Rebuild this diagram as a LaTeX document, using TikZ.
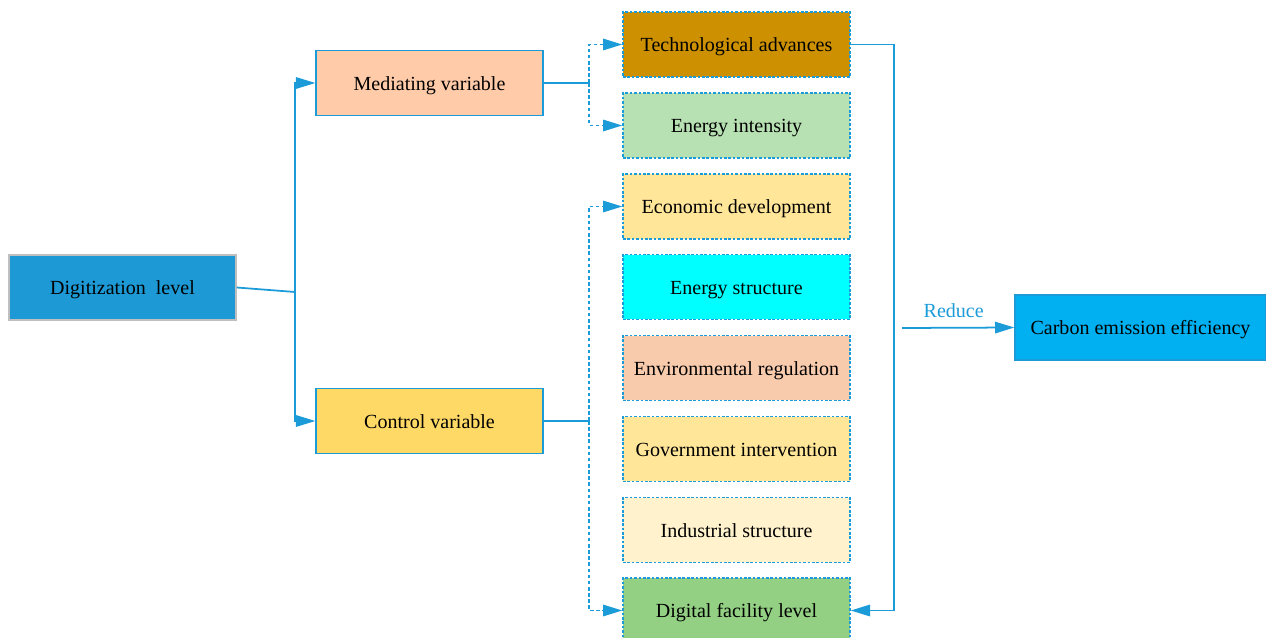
\documentclass[tikz,border=0pt]{standalone}
\usepackage{fontspec}
\setmainfont{Liberation Serif}
\usetikzlibrary{arrows.meta}
\definecolor{lineblue}{HTML}{1B9BD7}
\definecolor{digblue}{HTML}{1D9AD6}
\definecolor{carbblue}{HTML}{00B0F0}
\definecolor{peach}{HTML}{FFCBA8}
\definecolor{ctlyel}{HTML}{FFD966}
\definecolor{techbrown}{HTML}{CC9000}
\definecolor{intgreen}{HTML}{B7E1B2}
\definecolor{lightyel}{HTML}{FFE699}
\definecolor{aqua}{HTML}{00FFFF}
\definecolor{regpeach}{HTML}{F8CBAD}
\definecolor{paleyel}{HTML}{FFF2CC}
\definecolor{facgreen}{HTML}{93D083}
\tikzset{
  box/.style={draw=lineblue, line width=0.8pt, minimum width=4.54cm, minimum height=1.3cm,
    inner sep=0pt, text height=8.5pt, text depth=0.5pt, font=\fontsize{11.4}{13}\selectfont},
  dbox/.style={box, dash pattern=on 1.5pt off 1pt},
  link/.style={lineblue, line width=1pt},
  dlink/.style={link, dash pattern=on 2pt off 1.5pt},
  tip/.style={-{Triangle[length=11pt,width=6.5pt]}},
}
\begin{document}
\begin{tikzpicture}[x=0.02cm, y=-0.02cm]
  \useasboundingbox (0,0) rectangle (1266,638);

  \node [box, fill=digblue, draw=black!25] (dig) at (122.5,287.5) {Digitization\ \ level};
  \node [box, fill=peach] (med) at (429.5,83) {Mediating variable};
  \node [box, fill=ctlyel] (ctl) at (429.5,421) {Control variable};

  \node [dbox, fill=techbrown] (tech) at (736.5,44.5) {Technological advances};
  \node [dbox, fill=intgreen] (inten) at (736.5,125.5) {Energy intensity};
  \node [dbox, fill=lightyel] (econ) at (736.5,206.5) {Economic development};
  \node [dbox, fill=aqua] (struc) at (736.5,287) {Energy structure};
  \node [dbox, fill=regpeach] (reg) at (736.5,368) {Environmental regulation};
  \node [dbox, fill=lightyel] (gov) at (736.5,449) {Government intervention};
  \node [dbox, fill=paleyel] (ind) at (736.5,530) {Industrial structure};
  \node [dbox, fill=facgreen] (fac) at (736.5,610.5) {Digital facility level};

  \node [box, fill=carbblue, minimum width=5.02cm] (carb) at (1140.5,327.5) {Carbon emission efficiency};

  \coordinate (jl) at (295,292);
  \coordinate (jm) at (589,83);
  \coordinate (jc) at (589,421);
  \coordinate (jr) at (894,328);
  \coordinate (rs) at (902,328);

  \draw [link] (dig.east) -- (jl);
  \draw [link, tip] (jl) |- (med.west);
  \draw [link, tip] (jl) |- (ctl.west);

  \draw [link] (med.east) -- (jm);
  \draw [dlink, tip] (jm) |- (tech.west);
  \draw [dlink, tip] (jm) |- (inten.west);

  \draw [link] (ctl.east) -- (jc);
  \draw [dlink, tip] (jc) |- (econ.west);
  \draw [dlink, tip] (jc) |- (fac.west);

  \draw [link, tip] (tech.east) -| (jr) |- (fac.east);
  \draw [link, tip] (rs) -- (carb.west) node [pos=0.46, above=2pt, text=lineblue, font=\fontsize{11.4}{13}\selectfont] {Reduce};
\end{tikzpicture}
\end{document}
